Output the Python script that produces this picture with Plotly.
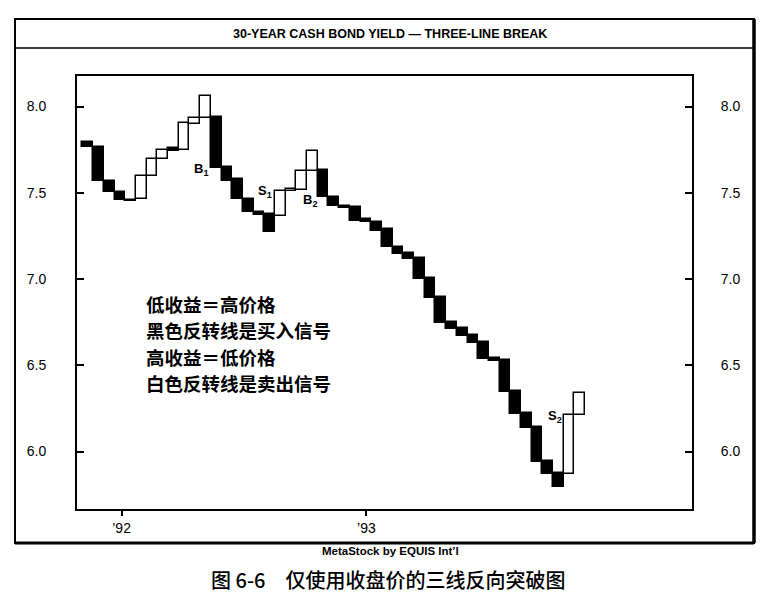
import plotly.graph_objects as go

# three-line break bricks (yield %)
brick_open = [
    7.796, 7.765, 7.570, 7.504, 7.458, 7.462, 7.597, 7.694, 7.758, 7.748,
    7.897, 7.932, 7.937, 7.649, 7.578, 7.464, 7.390, 7.375, 7.365, 7.512,
    7.516, 7.628, 7.632, 7.478, 7.426, 7.416, 7.346, 7.332, 7.288, 7.187,
    7.149, 7.120, 7.004, 6.894, 6.752, 6.714, 6.675, 6.637, 6.540, 6.530,
    6.352, 6.221, 6.140, 5.947, 5.874, 5.870, 6.212,
]
brick_close = [
    7.765, 7.570, 7.504, 7.458, 7.450, 7.597, 7.694, 7.748, 7.744, 7.903,
    7.932, 8.061, 7.643, 7.570, 7.462, 7.390, 7.371, 7.274, 7.512, 7.522,
    7.628, 7.744, 7.474, 7.421, 7.410, 7.338, 7.329, 7.280, 7.184, 7.145,
    7.114, 6.998, 6.888, 6.743, 6.708, 6.670, 6.631, 6.534, 6.526, 6.347,
    6.217, 6.134, 5.941, 5.870, 5.792, 6.212, 6.341,
]
year_tick_pos = [3.16, 26.05]
year_tick_labels = ["\u201992", "\u201993"]
yield_ticks = [6.0, 6.5, 7.0, 7.5, 8.0]

signal_labels = ["B<sub>1</sub>", "S<sub>1</sub>", "B<sub>2</sub>", "S<sub>2</sub>"]
signal_x = [10.6, 16.6, 20.8, 43.7]
signal_y = [7.635, 7.505, 7.455, 6.205]

notes = ["低收益＝高价格", "黑色反转线是买入信号", "高收益＝低价格", "白色反转线是卖出信号"]

W, H = 781, 614
OFF = 8  # page body margin
cjk = "Noto Sans CJK SC"

idx = list(range(len(brick_open)))
base = [min(o, c) for o, c in zip(brick_open, brick_close)]
height = [abs(c - o) for o, c in zip(brick_open, brick_close)]
colors = ["black" if c < o else "white" for o, c in zip(brick_open, brick_close)]

fig = go.Figure()
fig.add_trace(go.Bar(
    x=idx, y=height, base=base, width=1.0,
    marker=dict(color=colors, line=dict(color="black", width=1.5)),
    showlegend=False, hoverinfo="skip",
))
# empty trace so the right-hand axis gets drawn
fig.add_trace(go.Scatter(x=[], y=[], yaxis="y2", showlegend=False, hoverinfo="skip"))

def px_x(p):
    return (p - OFF) / W

def px_y(p):
    return 1 - (p - OFF) / H

x_dom = [px_x(77), px_x(692)]
y_dom = [px_y(509), px_y(76)]
y_rng = [5.667, 8.177]
tick_font = dict(family="Liberation Sans", size=14, color="black")

fig.update_layout(
    width=W, height=H, autosize=False,
    margin=dict(l=0, r=0, t=0, b=0),
    paper_bgcolor="white", plot_bgcolor="white",
    bargap=0,
    xaxis=dict(
        domain=x_dom, range=[-1.01, 56.49], showgrid=False, zeroline=False,
        showline=True, linecolor="black", linewidth=2, mirror=True,
        tickmode="array", tickvals=year_tick_pos, ticktext=year_tick_labels,
        ticks="outside", ticklen=5, tickcolor="black", tickwidth=1.5,
        tickfont=dict(family="Liberation Sans", size=14, color="black"),
    ),
    yaxis=dict(
        domain=y_dom, range=y_rng, showgrid=False, zeroline=False,
        showline=True, linecolor="black", linewidth=2,
        tickmode="array", tickvals=yield_ticks,
        ticktext=[f"{v:.1f}" for v in yield_ticks],
        ticks="inside", ticklen=7, tickcolor="black", tickwidth=1.5,
        ticklabelstandoff=26,
        tickfont=tick_font,
    ),
    yaxis2=dict(
        overlaying="y", side="right", anchor="x", range=y_rng,
        showgrid=False, zeroline=False,
        showline=True, linecolor="black", linewidth=2,
        tickmode="array", tickvals=yield_ticks,
        ticktext=[f"{v:.1f}" for v in yield_ticks],
        ticks="inside", ticklen=7, tickcolor="black", tickwidth=1.5,
        ticklabelstandoff=24,
        tickfont=tick_font,
    ),
)

shapes = [
    dict(type="rect", xref="paper", yref="paper",
         x0=px_x(15), x1=px_x(754), y0=px_y(543), y1=px_y(19),
         line=dict(color="black", width=2)),
    dict(type="line", xref="paper", yref="paper",
         x0=px_x(754), x1=px_x(754), y0=px_y(543), y1=px_y(19),
         line=dict(color="black", width=3.5)),
    dict(type="line", xref="paper", yref="paper",
         x0=px_x(15), x1=px_x(754), y0=px_y(543), y1=px_y(543),
         line=dict(color="black", width=3)),
    dict(type="line", xref="paper", yref="paper",
         x0=px_x(15), x1=px_x(754), y0=px_y(48), y1=px_y(48),
         line=dict(color="black", width=1.5)),
]
fig.update_layout(shapes=shapes)

ann = [
    dict(text="<b>30-YEAR CASH BOND YIELD \u2014 THREE-LINE BREAK</b>",
         x=px_x(390), y=px_y(34), xref="paper", yref="paper", showarrow=False,
         xanchor="center", yanchor="middle",
         font=dict(family="Liberation Sans", size=12.5, color="black")),
    dict(text="<b>MetaStock by EQUIS Int\u2019l</b>",
         x=px_x(390), y=px_y(551), xref="paper", yref="paper", showarrow=False,
         xanchor="center", yanchor="middle",
         font=dict(family="Liberation Sans", size=11.5, color="black")),
    dict(text="图 6-6　仅使用收盘价的三线反向突破图",
         x=px_x(388), y=px_y(579), xref="paper", yref="paper", showarrow=False,
         xanchor="center", yanchor="middle",
         font=dict(family=cjk, size=20, weight=500, color="black")),
]
for t, sx, sy in zip(signal_labels, signal_x, signal_y):
    ann.append(dict(text=f"<b>{t}</b>", x=sx, y=sy, xref="x", yref="y",
                    showarrow=False, xanchor="center", yanchor="middle",
                    font=dict(family="Liberation Sans", size=13, color="black")))
for i, t in enumerate(notes):
    ann.append(dict(text=f"<b>{t}</b>", x=px_x(144), y=px_y(304 + 26.3 * i),
                    xref="paper", yref="paper", xanchor="left", yanchor="middle",
                    showarrow=False,
                    font=dict(family=cjk, size=18.5, color="black")))
fig.update_layout(annotations=ann)

fig.write_html("out.html")
